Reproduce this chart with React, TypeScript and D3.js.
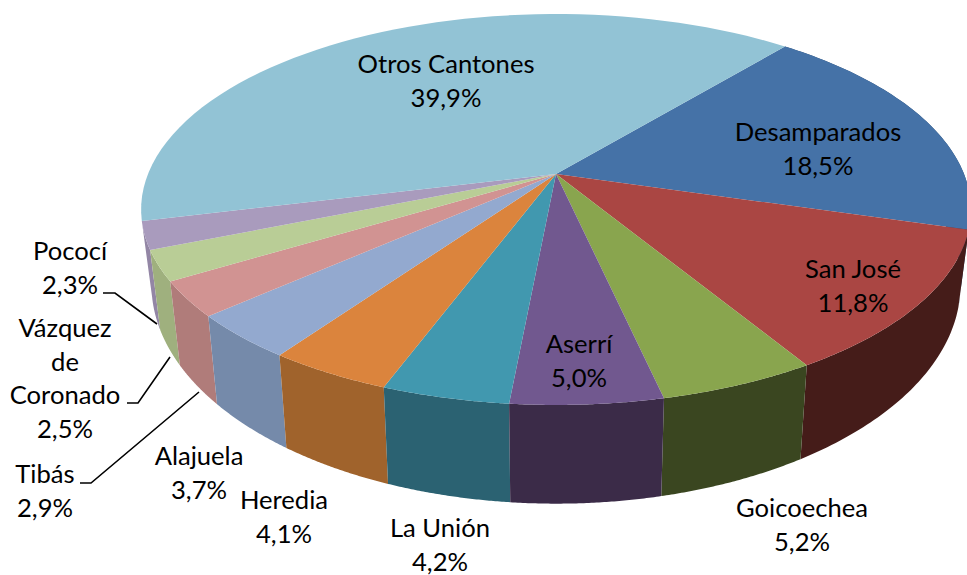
import React from "react";
import * as d3 from "d3";

const categories = ["Desamparados", "San José", "Goicoechea", "Aserrí", "La Unión", "Heredia", "Alajuela", "Tibás", "Vázquez de Coronado", "Pococí", "Otros Cantones"];
const values = [18.5, 11.8, 5.2, 5.0, 4.2, 4.1, 3.7, 2.9, 2.5, 2.3, 39.9];
const topColors = ["#4572A7", "#AA4643", "#89A54E", "#71588F", "#4198AF", "#DB843D", "#93A9CF", "#D19392", "#B9CD96", "#A99BBD", "#92C3D5"];
const wallColors = ["#2C4A6E", "#451C19", "#3A4620", "#3B2B48", "#2B6272", "#A0632C", "#758AAA", "#B07C7A", "#9FB07E", "#9386A5", "#7FA8B8"];
const labelLines = [
  ["Desamparados", "18,5%"], ["San José", "11,8%"], ["Goicoechea", "5,2%"], ["Aserrí", "5,0%"],
  ["La Unión", "4,2%"], ["Heredia", "4,1%"], ["Alajuela", "3,7%"], ["Tibás", "2,9%"],
  ["Vázquez", "de", "Coronado", "2,5%"], ["Pococí", "2,3%"], ["Otros Cantones", "39,9%"],
];
const labelAnchors: [number, number][] = [[818, 133], [853, 270], [802, 509], [579, 345], [440, 529], [284, 501], [199, 457], [45, 475], [65, 329], [70, 252], [446, 65]];
const leaders: [number, number][][] = [
  [[103, 293], [115, 293], [157, 324]],
  [[127, 403], [138, 403], [170, 357]],
  [[80, 483], [91, 483], [199, 392]],
];

const W = 967, H = 575;
const cx = 556, cy = 174, A = 408, B = 189, K = 0.1816;
const START = (39.75 * Math.PI) / 180;

const project = (a: number): [number, number] => {
  const u = Math.sin(a), v = -Math.cos(a), w = 1 - K * v;
  return [cx + (A * u) / w, cy + (B * v) / w];
};
const lower = ([x, y]: [number, number]): [number, number] => [
  cx + 0.975 * (x - cx),
  y + 71 + 0.12 * (y - cy),
];
const arcPts = (a0: number, a1: number) =>
  d3.range(0, 61).map((i) => project(a0 + ((a1 - a0) * i) / 60));

const pie = d3.pie<number>().sort(null).startAngle(START).endAngle(START + 2 * Math.PI);
const line = d3.line<[number, number]>();

export default function App() {
  const arcs = pie(values);
  const walls = arcs
    .map((d, i) => ({ d, i }))
    .filter(({ d }) => Math.cos((d.startAngle + d.endAngle) / 2) < 0.35)
    .sort((a, b) => Math.cos((b.d.startAngle + b.d.endAngle) / 2) - Math.cos((a.d.startAngle + a.d.endAngle) / 2));
  return (
    <svg width={W} height={H} viewBox={`0 0 ${W} ${H}`} style={{ position: "absolute", left: 0, top: 0, display: "block", background: "#fff" }}>
      {walls.map(({ d, i }) => {
        const t = arcPts(d.startAngle, d.endAngle);
        const b = t.map(lower).reverse();
        return <path key={"w" + i} d={line([...t, ...b])! + "Z"} fill={wallColors[i]} />;
      })}
      {arcs.map((d, i) => (
        <path key={"t" + i} d={line([[cx, cy], ...arcPts(d.startAngle, d.endAngle)])! + "Z"} fill={topColors[i]} data-name={categories[i]} />
      ))}
      {leaders.map((l, i) => (
        <path key={"l" + i} d={line(l)!} fill="none" stroke="#000" strokeWidth={1.6} />
      ))}
      {labelLines.map((lines, i) => (
        <text key={"x" + i} x={labelAnchors[i][0]} y={labelAnchors[i][1]} textAnchor="middle" fontFamily="Lato" fontSize={25.6} fill="#000">
          {lines.map((s, j) => (
            <tspan key={j} x={labelAnchors[i][0]} dy={j === 0 ? 8 : 33.7}>{s}</tspan>
          ))}
        </text>
      ))}
    </svg>
  );
}
